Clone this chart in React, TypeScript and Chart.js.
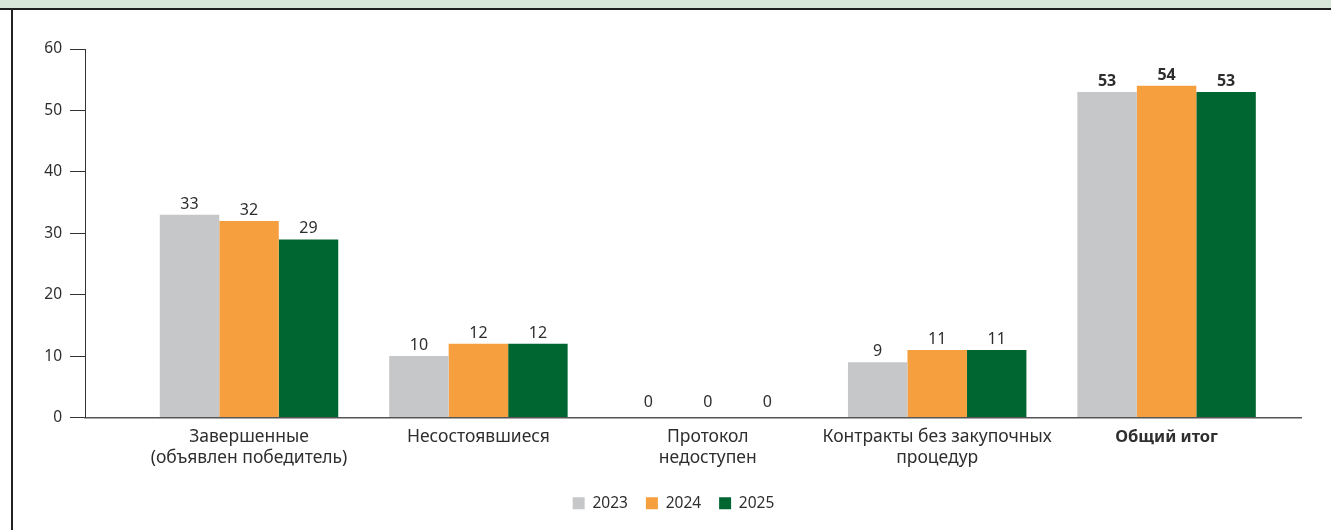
import React, { useEffect, useRef } from "react";
import { Chart, registerables } from "chart.js";

Chart.register(...registerables);

const categories: string[][] = [
  ["Завершенные", "(объявлен победитель)"],
  ["Несостоявшиеся"],
  ["Протокол", "недоступен"],
  ["Контракты без закупочных", "процедур"],
  ["Общий итог"],
];
const years = ["2023", "2024", "2025"];
const values2023 = [33, 10, 0, 9, 53];
const values2024 = [32, 12, 0, 11, 54];
const values2025 = [29, 12, 0, 11, 53];
const colors = ["#c6c7c9", "#f59f3e", "#006631"];
const yTicks = [0, 10, 20, 30, 40, 50, 60];

const FONT = "'Noto Sans', sans-serif";
const TEXT = "#2e2e2e";

const valueLabels = {
  id: "valueLabels",
  afterDatasetsDraw(chart: any) {
    const ctx = chart.ctx;
    ctx.save();
    ctx.fillStyle = TEXT;
    ctx.textAlign = "center";
    ctx.textBaseline = "alphabetic";
    chart.data.datasets.forEach((ds: any, di: number) => {
      const meta = chart.getDatasetMeta(di);
      meta.data.forEach((el: any, i: number) => {
        const v = ds.data[i].y;
        const bold = i === categories.length - 1;
        ctx.font = `${bold ? "bold " : ""}16px ${FONT}`;
        const off = v === 0 ? 11 : 6;
        ctx.fillText(String(v), el.x, el.y - off);
      });
    });
    ctx.restore();
  },
};

const legendShift = {
  id: "legendShift",
  afterLayout(chart: any) {
    if (chart.legend) {
      chart.legend.left += 23;
      chart.legend.right += 23;
    }
  },
};

export default function App() {
  const ref = useRef<HTMLCanvasElement>(null);
  useEffect(() => {
    if (!ref.current) return;
    const series = [values2023, values2024, values2025];
    const chart = new Chart(ref.current, {
      type: "bar",
      data: {
        datasets: series.map((vals, si) => ({
          label: years[si],
          data: vals.map((v, i) => ({ x: i, y: v })),
          backgroundColor: colors[si],
          borderWidth: 0,
          barPercentage: 1,
          categoryPercentage: 0.778,
        })),
      },
      options: {
        responsive: false,
        animation: false,
        layout: { padding: { top: 49, right: 30, left: 0, bottom: 9 } },
        plugins: {
          tooltip: { enabled: false },
          legend: {
            position: "bottom",
            labels: {
              boxWidth: 12,
              boxHeight: 12,
              padding: 18,
              color: TEXT,
              font: { family: FONT, size: 15.5 },
            },
          },
        },
        scales: {
          x: {
            type: "linear",
            offset: false,
            min: -0.715,
            max: 4.586,
            grid: { display: false, offset: false },
            border: { display: true, color: "#555", width: 1.5 },
            afterBuildTicks: (scale: any) => {
              scale.ticks = categories.map((_, i) => ({ value: i }));
            },
            afterFit: (scale: any) => {
              scale.height = 60;
            },
            ticks: {
              autoSkip: false,
              maxRotation: 0,
              padding: 1,
              color: TEXT,
              font: (ctx: any) => {
                const bold = ctx.tick && ctx.tick.value === categories.length - 1;
                return {
                  family: FONT,
                  size: bold ? 16.5 : 17.5,
                  lineHeight: bold ? 1.27 : 1.2,
                  weight: bold ? "bold" : "normal",
                };
              },
              callback: (v: any) => categories[v] ?? "",
            },
          },
          y: {
            min: yTicks[0],
            max: yTicks[yTicks.length - 1],
            afterBuildTicks: (scale: any) => {
              scale.ticks = yTicks.map((v) => ({ value: v }));
            },
            afterFit: (scale: any) => {
              scale.width = 85;
            },
            grid: {
              display: true,
              drawOnChartArea: false,
              drawTicks: true,
              tickLength: 15,
              color: "#333",
              lineWidth: 1,
            },
            border: { display: true, color: "#333", width: 1 },
            ticks: {
              padding: 8,
              color: TEXT,
              font: { family: FONT, size: 15.5 },
            },
          },
        },
      },
      plugins: [valueLabels, legendShift],
    } as any);
    return () => chart.destroy();
  }, []);

  return (
    <div style={{ position: "fixed", left: 0, top: 0, width: 1331, height: 530, background: "#fff" }}>
      <div style={{ position: "absolute", left: 0, top: 0, width: 1331, height: 8, background: "#d8e6da" }} />
      <div style={{ position: "absolute", left: 0, top: 8, width: 1331, height: 2, background: "#1e1e1e" }} />
      <div style={{ position: "absolute", left: 11, top: 10, width: 1.5, height: 520, background: "#222" }} />
      <canvas ref={ref} width={1331} height={530} style={{ position: "absolute", left: 0, top: 0 }} />
    </div>
  );
}
